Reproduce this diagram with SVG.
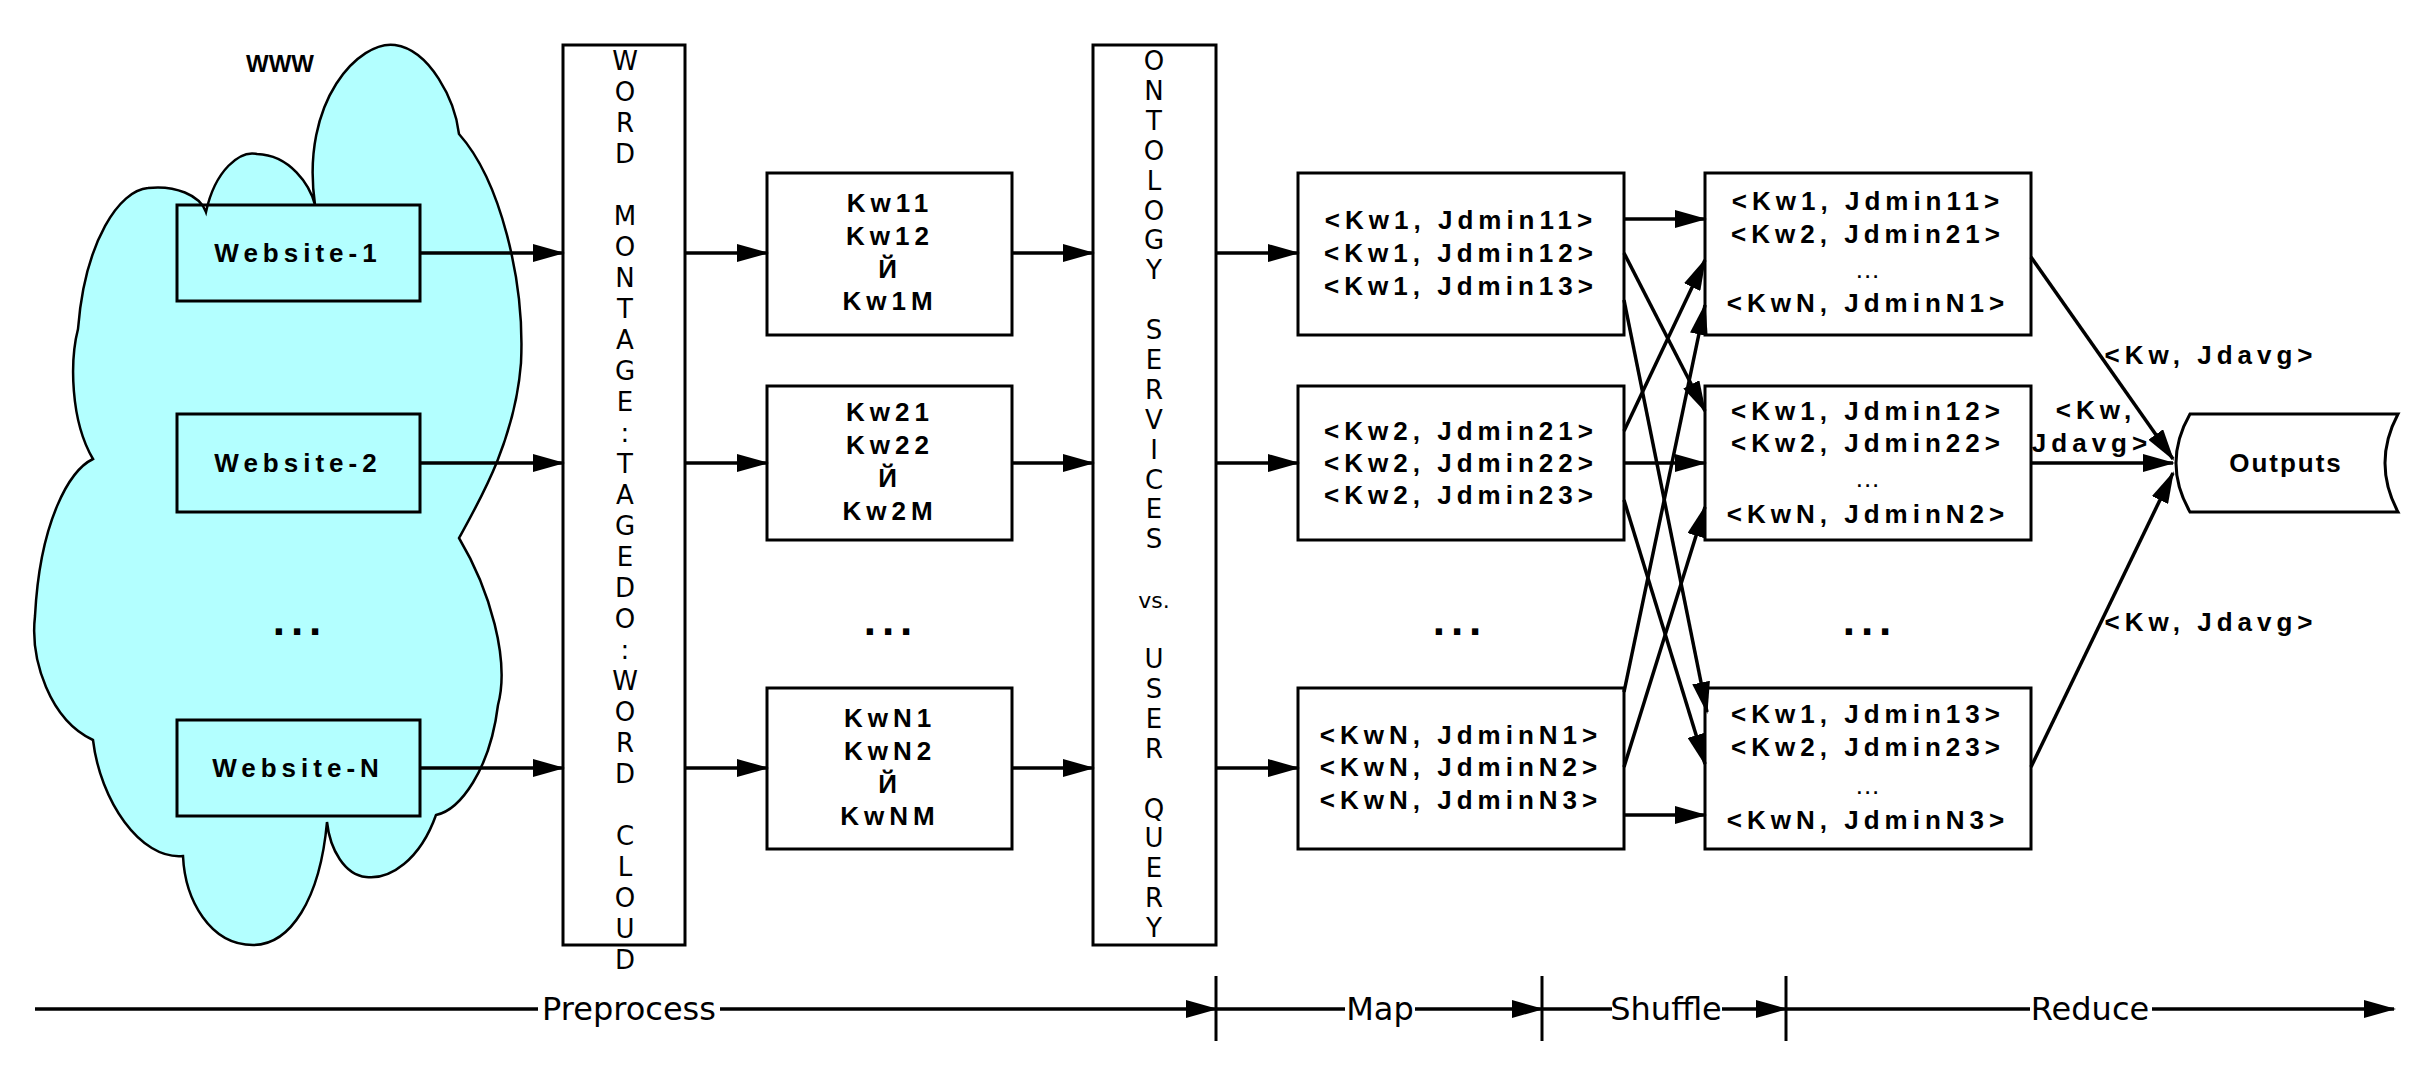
<svg xmlns="http://www.w3.org/2000/svg" width="2435" height="1074" viewBox="0 0 2435 1074">
<style>
.b{fill:#fff;stroke:#000;stroke-width:3}
.t{font-family:"Liberation Sans",Arial,sans-serif;font-weight:bold;font-size:26px;letter-spacing:5px;text-anchor:middle;fill:#000}
.v{font-family:"DejaVu Sans",sans-serif;font-size:26px;text-anchor:middle;fill:#000}
.tl{font-family:"DejaVu Sans",sans-serif;font-size:32px;text-anchor:middle;fill:#000}
.c line,.c path{stroke:#000;stroke-width:3.5;fill:none;marker-end:url(#ah)}
.d{font-family:"Liberation Sans",Arial,sans-serif;font-weight:bold;font-size:44px;letter-spacing:6px;text-anchor:middle}
</style>
<defs>
<marker id="ah" markerUnits="userSpaceOnUse" markerWidth="32" markerHeight="18" refX="30" refY="9" orient="auto"><path d="M0,0 L32,9 L0,18 Z" fill="#000"/></marker>
</defs>
<rect width="2435" height="1074" fill="#fff"/>
<g id="cloud">
<path d="M315,205 C300,100 360,40 395,45 C430,50 455,100 459,134 C500,180 525,280 521,363 C515,440 480,500 459,538 C490,590 510,660 498,705 C490,770 460,810 436,815 C420,860 390,880 366,877 C345,875 330,850 327,822 C320,900 290,945 253,945 C210,945 185,900 183,856 C140,860 100,800 93,740 C50,720 30,660 35,616 C40,520 70,470 93,459 C70,420 70,360 78,329 C85,240 120,190 148,188 C175,185 200,195 206,212 C215,170 240,150 257,154 C290,155 310,185 315,205 Z" fill="#b3ffff" stroke="#000" stroke-width="2.5"/>
<text x="280" y="72" class="t" style="font-size:24px;letter-spacing:0">WWW</text>
<text x="300" y="635" class="d">...</text>
</g>
<g id="w1"><rect class="b" x="177" y="205" width="243" height="96" style="fill:none"/><text x="298" y="262" class="t">Website-1</text></g>
<g id="w2"><rect class="b" x="177" y="414" width="243" height="98" style="fill:none"/><text x="298" y="472" class="t">Website-2</text></g>
<g id="wn"><rect class="b" x="177" y="720" width="243" height="96" style="fill:none"/><text x="298" y="777" class="t">Website-N</text></g>
<g id="wordcloud"><rect class="b" x="563" y="45" width="122" height="900"/>
<text class="v"><tspan x="625" y="70">W</tspan><tspan x="625" dy="31">O</tspan><tspan x="625" dy="31">R</tspan><tspan x="625" dy="31">D</tspan><tspan x="625" dy="62">M</tspan><tspan x="625" dy="31">O</tspan><tspan x="625" dy="31">N</tspan><tspan x="625" dy="31">T</tspan><tspan x="625" dy="31">A</tspan><tspan x="625" dy="31">G</tspan><tspan x="625" dy="31">E</tspan><tspan x="625" dy="31">:</tspan><tspan x="625" dy="31">T</tspan><tspan x="625" dy="31">A</tspan><tspan x="625" dy="31">G</tspan><tspan x="625" dy="31">E</tspan><tspan x="625" dy="31">D</tspan><tspan x="625" dy="31">O</tspan><tspan x="625" dy="31">:</tspan><tspan x="625" dy="31">W</tspan><tspan x="625" dy="31">O</tspan><tspan x="625" dy="31">R</tspan><tspan x="625" dy="31">D</tspan><tspan x="625" dy="62">C</tspan><tspan x="625" dy="31">L</tspan><tspan x="625" dy="31">O</tspan><tspan x="625" dy="31">U</tspan><tspan x="625" dy="31">D</tspan></text></g>
<g id="ontology"><rect class="b" x="1093" y="45" width="123" height="900"/>
<text class="v"><tspan x="1154" y="70">O</tspan><tspan x="1154" dy="29.9">N</tspan><tspan x="1154" dy="29.9">T</tspan><tspan x="1154" dy="29.9">O</tspan><tspan x="1154" dy="29.9">L</tspan><tspan x="1154" dy="29.9">O</tspan><tspan x="1154" dy="29.9">G</tspan><tspan x="1154" dy="29.9">Y</tspan><tspan x="1154" dy="59.8">S</tspan><tspan x="1154" dy="29.9">E</tspan><tspan x="1154" dy="29.9">R</tspan><tspan x="1154" dy="29.9">V</tspan><tspan x="1154" dy="29.9">I</tspan><tspan x="1154" dy="29.9">C</tspan><tspan x="1154" dy="29.9">E</tspan><tspan x="1154" dy="29.9">S</tspan><tspan x="1154" dy="59.8" style="font-size:22px">vs.</tspan><tspan x="1154" dy="59.8">U</tspan><tspan x="1154" dy="29.9">S</tspan><tspan x="1154" dy="29.9">E</tspan><tspan x="1154" dy="29.9">R</tspan><tspan x="1154" dy="59.8">Q</tspan><tspan x="1154" dy="29.9">U</tspan><tspan x="1154" dy="29.9">E</tspan><tspan x="1154" dy="29.9">R</tspan><tspan x="1154" dy="29.9">Y</tspan></text></g>
<g id="kw1"><rect class="b" x="767" y="173" width="245" height="162"/><text class="t"><tspan x="890" y="212">Kw11</tspan><tspan x="890" y="245">Kw12</tspan><tspan x="890" y="278">Й</tspan><tspan x="890" y="310">Kw1M</tspan></text></g>
<g id="kw2"><rect class="b" x="767" y="386" width="245" height="154"/><text class="t"><tspan x="890" y="421">Kw21</tspan><tspan x="890" y="454">Kw22</tspan><tspan x="890" y="487">Й</tspan><tspan x="890" y="520">Kw2M</tspan></text></g>
<g id="kwn"><rect class="b" x="767" y="688" width="245" height="161"/><text class="t"><tspan x="890" y="727">KwN1</tspan><tspan x="890" y="760">KwN2</tspan><tspan x="890" y="793">Й</tspan><tspan x="890" y="825">KwNM</tspan></text></g>
<text x="891" y="635" class="d">...</text>
<g id="map1"><rect class="b" x="1298" y="173" width="326" height="162"/><text class="t"><tspan x="1461" y="229">&lt;Kw1, Jdmin11&gt;</tspan><tspan x="1461" y="262">&lt;Kw1, Jdmin12&gt;</tspan><tspan x="1461" y="295">&lt;Kw1, Jdmin13&gt;</tspan></text></g>
<g id="map2"><rect class="b" x="1298" y="386" width="326" height="154"/><text class="t"><tspan x="1461" y="440">&lt;Kw2, Jdmin21&gt;</tspan><tspan x="1461" y="472">&lt;Kw2, Jdmin22&gt;</tspan><tspan x="1461" y="504">&lt;Kw2, Jdmin23&gt;</tspan></text></g>
<g id="mapn"><rect class="b" x="1298" y="688" width="326" height="161"/><text class="t"><tspan x="1461" y="744">&lt;KwN, JdminN1&gt;</tspan><tspan x="1461" y="776">&lt;KwN, JdminN2&gt;</tspan><tspan x="1461" y="809">&lt;KwN, JdminN3&gt;</tspan></text></g>
<text x="1460" y="635" class="d">...</text>
<g id="red1"><rect class="b" x="1705" y="173" width="326" height="162"/><text class="t"><tspan x="1868" y="210">&lt;Kw1, Jdmin11&gt;</tspan><tspan x="1868" y="243">&lt;Kw2, Jdmin21&gt;</tspan><tspan x="1868" y="278" style="font-weight:normal;letter-spacing:1px">...</tspan><tspan x="1868" y="312">&lt;KwN, JdminN1&gt;</tspan></text></g>
<g id="red2"><rect class="b" x="1705" y="386" width="326" height="154"/><text class="t"><tspan x="1868" y="420">&lt;Kw1, Jdmin12&gt;</tspan><tspan x="1868" y="452">&lt;Kw2, Jdmin22&gt;</tspan><tspan x="1868" y="487" style="font-weight:normal;letter-spacing:1px">...</tspan><tspan x="1868" y="523">&lt;KwN, JdminN2&gt;</tspan></text></g>
<g id="redn"><rect class="b" x="1705" y="688" width="326" height="161"/><text class="t"><tspan x="1868" y="723">&lt;Kw1, Jdmin13&gt;</tspan><tspan x="1868" y="756">&lt;Kw2, Jdmin23&gt;</tspan><tspan x="1868" y="794" style="font-weight:normal;letter-spacing:1px">...</tspan><tspan x="1868" y="829">&lt;KwN, JdminN3&gt;</tspan></text></g>
<text x="1870" y="635" class="d">...</text>
<g id="outputs"><path d="M2190,414 L2398,414 Q2372,463 2398,512 L2190,512 Q2162,463 2190,414 Z" class="b"/><text x="2286" y="472" class="t" style="letter-spacing:2px">Outputs</text></g>
<g class="c" id="connectors">
<line x1="420" y1="253" x2="563" y2="253"/><line x1="420" y1="463" x2="563" y2="463"/><line x1="420" y1="768" x2="563" y2="768"/>
<line x1="685" y1="253" x2="767" y2="253"/><line x1="685" y1="463" x2="767" y2="463"/><line x1="685" y1="768" x2="767" y2="768"/>
<line x1="1012" y1="253" x2="1093" y2="253"/><line x1="1012" y1="463" x2="1093" y2="463"/><line x1="1012" y1="768" x2="1093" y2="768"/>
<line x1="1216" y1="253" x2="1298" y2="253"/><line x1="1216" y1="463" x2="1298" y2="463"/><line x1="1216" y1="768" x2="1298" y2="768"/>
<line x1="1624" y1="219" x2="1705" y2="219"/>
<line x1="1624" y1="253" x2="1705" y2="411"/>
<line x1="1624" y1="300" x2="1707" y2="712"/>
<line x1="1624" y1="431" x2="1705" y2="260"/>
<line x1="1624" y1="463" x2="1705" y2="463"/>
<line x1="1624" y1="500" x2="1705" y2="764"/>
<line x1="1624" y1="692" x2="1705" y2="305"/>
<line x1="1624" y1="767" x2="1705" y2="507"/>
<line x1="1624" y1="815" x2="1705" y2="815"/>
<line x1="2031" y1="257" x2="2173" y2="459"/>
<line x1="2031" y1="463" x2="2173" y2="463"/>
<line x1="2031" y1="767" x2="2173" y2="473"/>
</g>
<g id="labels" class="t">
<text x="2211" y="364">&lt;Kw, Jdavg&gt;</text>
<text x="2096" y="419">&lt;Kw,</text>
<text x="2092" y="452">Jdavg&gt;</text>
<text x="2211" y="631">&lt;Kw, Jdavg&gt;</text>
</g>
<g id="timeline">
<g class="c"><line x1="35" y1="1009" x2="1216" y2="1009"/><line x1="1216" y1="1009" x2="1542" y2="1009"/><line x1="1542" y1="1009" x2="1786" y2="1009"/><line x1="1786" y1="1009" x2="2394" y2="1009"/></g>
<g stroke="#000" stroke-width="3"><line x1="1216" y1="976" x2="1216" y2="1041"/><line x1="1542" y1="976" x2="1542" y2="1041"/><line x1="1786" y1="976" x2="1786" y2="1041"/></g>
<rect x="538" y="992" width="182" height="34" fill="#fff"/><text x="629" y="1020" class="tl">Preprocess</text>
<rect x="1345" y="992" width="70" height="34" fill="#fff"/><text x="1380" y="1020" class="tl">Map</text>
<rect x="1612" y="992" width="110" height="34" fill="#fff"/><text x="1666" y="1020" class="tl">Shuffle</text>
<rect x="2030" y="992" width="122" height="34" fill="#fff"/><text x="2090" y="1020" class="tl">Reduce</text>
</g>
</svg>
